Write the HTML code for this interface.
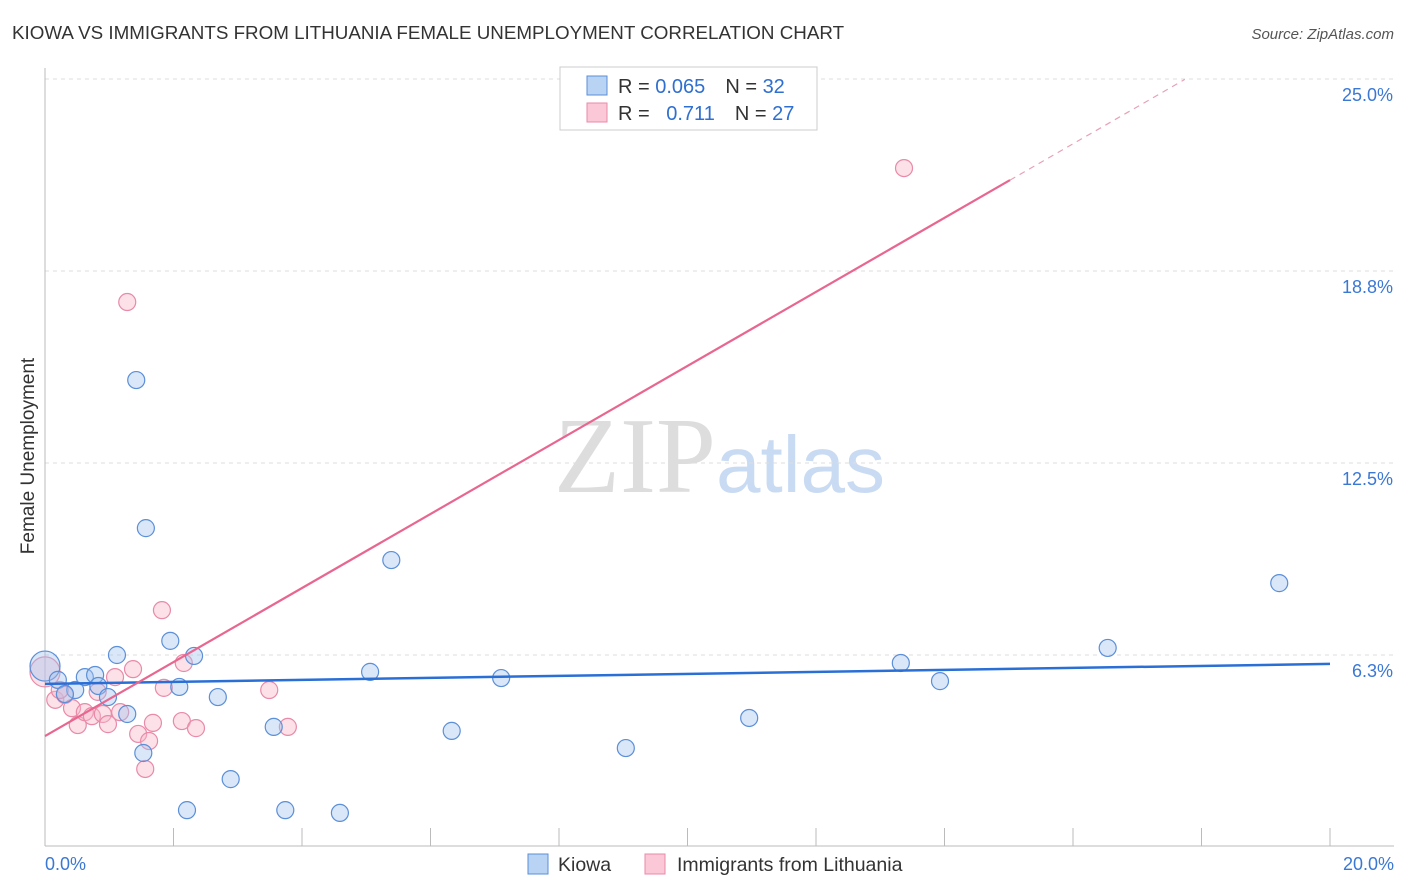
<!DOCTYPE html>
<html><head><meta charset="utf-8"><style>
body{margin:0;background:#fff;font-family:"Liberation Sans",sans-serif;}
</style></head><body>
<svg id="c" width="1406" height="892" style="display:block">
<text x="12" y="39" font-size="18.8" fill="#333">KIOWA VS IMMIGRANTS FROM LITHUANIA FEMALE UNEMPLOYMENT CORRELATION CHART</text>
<text x="1394" y="39" font-size="15" fill="#555" font-style="italic" text-anchor="end">Source: ZipAtlas.com</text>
<text x="716" y="492" font-size="108" fill="#ddd" text-anchor="end" font-family="Liberation Serif,serif">ZIP</text>
<text x="716" y="492" font-size="80" fill="#c9dbf3">atlas</text>
<text x="34" y="456" font-size="19" fill="#333" text-anchor="middle" transform="rotate(-90 34 456)">Female Unemployment</text>
<g id="grid"></g><g id="marks"></g>
<g>
<rect x="560" y="67" width="257" height="63" fill="#fff" stroke="#ccc"/>
<rect x="587" y="76" width="20" height="19" fill="#b9d3f5" stroke="#5b8fd8"/>
<rect x="587" y="103" width="20" height="19" fill="#fbc8d7" stroke="#e88aa8"/>
<text x="618" y="93" font-size="20" fill="#333">R = <tspan fill="#2f6fd0">0.065</tspan><tspan dx="20">N = </tspan><tspan fill="#2f6fd0">32</tspan></text>
<text x="618" y="120" font-size="20" fill="#333">R = <tspan fill="#2f6fd0" dx="11">0.711</tspan><tspan dx="20">N = </tspan><tspan fill="#2f6fd0">27</tspan></text>
</g>
<g>
<rect x="528" y="854" width="20" height="20" fill="#b9d3f5" stroke="#5b8fd8"/>
<text x="558" y="871" font-size="19.5" fill="#333">Kiowa</text>
<rect x="645" y="854" width="20" height="20" fill="#fbc8d7" stroke="#e88aa8"/>
<text x="677" y="871" font-size="19.5" fill="#333">Immigrants from Lithuania</text>
</g>
</svg>
<script>
const yTicks=[6.25,12.5,18.75,25];
const yTickLabels=["6.3%","12.5%","18.8%","25.0%"];
const xTicks=[0,2,4,6,8,10,12,14,16,18,20];
const kiowaX=[0,0.20,0.47,0.62,0.78,0.83,0.98,1.12,1.28,1.42,1.53,1.57,1.95,2.09,2.21,2.32,2.69,2.89,3.56,3.74,4.59,5.06,5.39,6.33,7.10,9.04,10.96,13.32,13.93,16.54,19.21,0.31];
const kiowaY=[5.89,5.44,5.11,5.53,5.60,5.24,4.88,6.25,4.33,15.20,3.06,10.38,6.71,5.21,1.20,6.22,4.88,2.21,3.91,1.20,1.11,5.70,9.34,3.78,5.50,3.22,4.20,5.99,5.40,6.48,8.59,4.98];
const lithX=[0,0.16,0.31,0.42,0.51,0.62,0.73,0.82,0.90,0.98,1.09,1.17,1.28,1.37,1.45,1.56,1.62,1.68,1.82,1.85,2.13,2.16,2.35,3.49,3.78,13.37,0.23];
const lithY=[5.70,4.79,4.95,4.52,3.97,4.39,4.26,5.05,4.33,4.00,5.53,4.39,17.74,5.79,3.68,2.54,3.45,4.04,7.71,5.18,4.10,5.99,3.87,5.11,3.91,22.10,5.11];
const kiowaTrend=[5.31,5.96];
const lithTrend=[3.61,1.205];
const X=v=>45+v/20*1285, Y=v=>847-v/6.25*192;
const NS="http://www.w3.org/2000/svg";
function mk(p,t,a){const e=document.createElementNS(NS,t);for(const k in a)e.setAttribute(k,a[k]);p.appendChild(e);return e;}
const g=document.getElementById('grid'),m=document.getElementById('marks');
yTicks.forEach((v,i)=>{
 const l=mk(g,'line',{x1:45,x2:1394,y1:Y(v),y2:Y(v),stroke:'#ddd','stroke-dasharray':'4,4'});
 
 
 const t=mk(g,'text',{x:1393,y:Y(v)+22,'font-size':18,fill:'#3a78d4','text-anchor':'end'});t.textContent=yTickLabels[i];
 
 
});
const ax=mk(g,'line',{x1:45,x2:1394,y1:846,y2:846,stroke:'#bbb'});


const ay=mk(g,'line',{x1:45,x2:45,y1:68,y2:846,stroke:'#bbb'});


xTicks.forEach(v=>{const l=mk(g,'line',{x1:X(v),x2:X(v),y1:828,y2:846,stroke:'#bbb'});
 
 });
[[0,"0.0%",'start',45],[20,"20.0%",'end',1394]].forEach(d=>{const t=mk(g,'text',{x:d[3],y:870,'font-size':18,fill:'#3a78d4','text-anchor':d[2]});t.textContent=d[1];
 
 });
function pts(xs,ys,fill,st,name){xs.forEach((x,i)=>{const c=mk(m,'circle',{cx:X(x),cy:Y(ys[i]),r:i===0?15:8.5,fill:fill,stroke:st,'stroke-width':1.2});
 
 });}
pts(lithX,lithY,'rgba(248,180,200,0.4)','#e88aa8','lithuania-point');
pts(kiowaX,kiowaY,'rgba(160,196,240,0.4)','#5b8fd8','kiowa-point');
const kl=mk(m,'line',{x1:X(0),y1:Y(kiowaTrend[0]),x2:X(20),y2:Y(kiowaTrend[1]),stroke:'#2a6fd6','stroke-width':2.5});


const f=x=>lithTrend[0]+lithTrend[1]*x;
const pl=mk(m,'line',{x1:X(0),y1:Y(f(0)),x2:X(15.02),y2:Y(f(15.02)),stroke:'#e8668f','stroke-width':2.2});


const pd=mk(m,'line',{x1:X(15.02),y1:Y(f(15.02)),x2:X(17.74),y2:Y(f(17.74)),stroke:'#e8a0b5','stroke-width':1.2,'stroke-dasharray':'6,5'});


</script>
</body></html>
